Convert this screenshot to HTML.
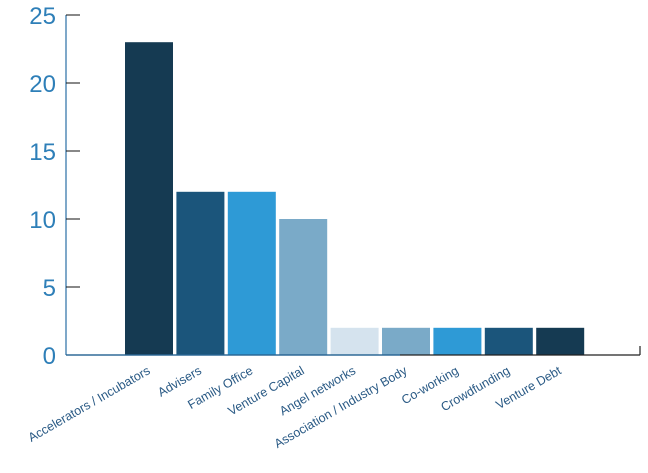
<!DOCTYPE html>
<html><head><meta charset="utf-8"><style>
html,body{margin:0;padding:0;background:#fff;}
svg{display:block;font-family:"Liberation Sans",sans-serif;}
</style></head><body>
<svg id="chart" width="648" height="473" viewBox="0 0 648 473"></svg>
<script>
const categories=["Accelerators / Incubators","Advisers","Family Office","Venture Capital","Angel networks","Association / Industry Body","Co-working","Crowdfunding","Venture Debt"];
const values=[23,12,12,10,2,2,2,2,2];
const colors=["#153a52","#1b557b","#2e9ad6","#7aaac8","#d5e3ee","#7aaac8","#2e9ad6","#1b557b","#153a52"];
const yTicks=[0,5,10,15,20,25];
const NS="http://www.w3.org/2000/svg";
const svg=document.getElementById('chart');
const x0=66,y0=355,yTop=15,yMax=25;
const y=v=>y0-(v/yMax)*(y0-yTop);
const barX=i=>125+i*51.4, barW=48;
function mk(t,a){const e=document.createElementNS(NS,t);for(const k in a)e.setAttribute(k,a[k]);svg.appendChild(e);return e;}
values.forEach((v,i)=>{
 const r=mk('rect',{x:barX(i),y:y(v),width:barW,height:y0-y(v),fill:colors[i]});
 
 
 const t=mk('text',{x:barX(i)+barW/2+2,y:y0+18,'text-anchor':'end','font-size':'12.5',fill:'#2a5a85',transform:`rotate(-30 ${barX(i)+barW/2+2} ${y0+18})`});
 t.textContent=categories[i];
 
 
});
const ya=mk('line',{x1:x0,y1:yTop,x2:x0,y2:y0,stroke:'#2a6fa5','stroke-width':1.2});


const xa=mk('line',{x1:x0,y1:y0,x2:640,y2:y0,stroke:'#222','stroke-width':1.2});


mk('line',{x1:x0,y1:y0,x2:400,y2:y0,stroke:'#2a6fa5','stroke-width':1.2});
mk('line',{x1:640,y1:y0,x2:640,y2:y0-9,stroke:'#222','stroke-width':1.2});
yTicks.forEach(v=>{
 if(v>0){const tk=mk('line',{x1:x0,y1:y(v),x2:x0+14,y2:y(v),stroke:'#111','stroke-width':1});
 
 }
 const t=mk('text',{x:56,y:y(v)+9,'text-anchor':'end','font-size':'24',fill:'#2e7fb8'});
 t.textContent=v;
 
 
});
</script>
</body></html>
